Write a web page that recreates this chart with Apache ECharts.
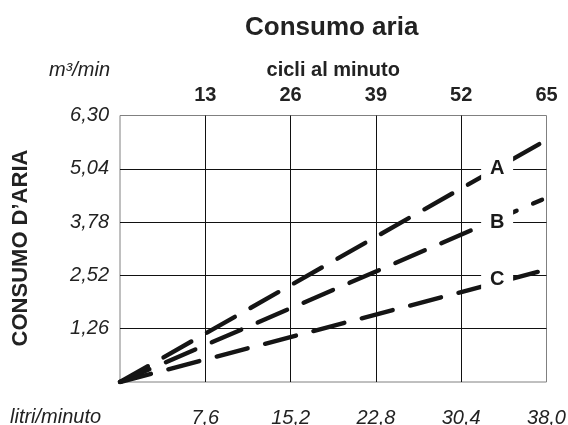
<!DOCTYPE html>
<html><head><meta charset="utf-8">
<script src="https://cdn.jsdelivr.net/npm/echarts@6/dist/echarts.min.js"></script>
<style>html,body{margin:0;padding:0;background:#fff}#c{width:568px;height:425px}</style>
</head><body><div id="c"></div>
<script>
// data
const seriesNames = ['A', 'B', 'C'];
const xLitri = [0, 37.6];            // litri/minuto
const serieA = [0, 5.66];            // m3/min
const serieB = [0, 4.31];
const serieC = [0, 2.63];
const labelX = [33.6, 33.6, 33.6];
const labelY = [5.04, 3.78, 2.43];
const litriTicks = [7.6, 15.2, 22.8, 30.4, 38.0];
const cicliTicks = [13, 26, 39, 52, 65];
const consumoTicks = [1.26, 2.52, 3.78, 5.04, 6.30];

const FONT = 'Liberation Sans, Arial, Helvetica, sans-serif';
const chart = echarts.init(document.getElementById('c'), null, {renderer: 'canvas'});
const values = [serieA, serieB, serieC];

const lineSeries = seriesNames.map((n, i) => ({
  name: n, type: 'line', xAxisIndex: 0, yAxisIndex: 0,
  data: xLitri.map((x, k) => [x, values[i][k]]),
  symbol: 'none', z: 3,
  lineStyle: {color: '#151515', width: 4.4, type: [32, 18], cap: 'round'}
}));

const labelSeries = {
  type: 'scatter', xAxisIndex: 0, yAxisIndex: 0, z: 10, zlevel: 1,
  symbol: 'rect', symbolSize: [32, 26],
  itemStyle: {color: '#ffffff', opacity: 1},
  data: seriesNames.map((n, i) => ({name: n, value: [labelX[i], labelY[i]]})),
  label: {show: true, position: 'inside', formatter: p => p.name,
    fontFamily: FONT, fontWeight: 'bold', fontSize: 20, color: '#1a1a1a'},
  emphasis: {disabled: true},
  silent: true
};

chart.setOption({
  animation: false,
  backgroundColor: '#fff',
  title: {text: 'Consumo aria', left: 245, top: 15, padding: 0,
    textStyle: {fontFamily: FONT, fontSize: 26, fontWeight: 'bold', color: '#222'}},
  grid: {left: 120, right: 21.5, top: 115.5, bottom: 43, show: true,
    outerBoundsMode: 'none', containLabel: false,
    borderColor: '#808080', borderWidth: 1, backgroundColor: 'transparent'},
  xAxis: [{
    type: 'value', position: 'bottom', min: 0, max: litriTicks[litriTicks.length - 1], interval: litriTicks[0],
    axisLine: {show: false}, axisTick: {show: false},
    splitLine: {show: true, showMinLine: false, showMaxLine: false, lineStyle: {color: '#111', width: 1}},
    axisLabel: {margin: 26, fontFamily: FONT, fontStyle: 'italic', fontSize: 20, color: '#222',
      formatter: v => v === 0 ? '' : v.toFixed(1).replace('.', ',')}
  }, {
    type: 'value', position: 'top', min: 0, max: cicliTicks[cicliTicks.length - 1], interval: cicliTicks[0],
    axisLine: {show: false}, axisTick: {show: false}, splitLine: {show: false},
    axisLabel: {margin: 10, fontFamily: FONT, fontWeight: 'bold', fontSize: 20, color: '#222',
      formatter: v => v === 0 ? '' : String(v)},
    name: 'cicli al minuto', nameLocation: 'middle', nameGap: 45,
    nameTextStyle: {fontFamily: FONT, fontWeight: 'bold', fontSize: 20, color: '#222', verticalAlign: 'middle'}
  }],
  yAxis: [{
    type: 'value', min: 0, max: consumoTicks[consumoTicks.length - 1], interval: consumoTicks[0],
    axisLine: {show: false}, axisTick: {show: false},
    splitLine: {show: true, showMinLine: false, showMaxLine: false, lineStyle: {color: '#111', width: 1}},
    axisLabel: {margin: 11, fontFamily: FONT, fontStyle: 'italic', fontSize: 20, color: '#222',
      formatter: v => v === 0 ? '' : v.toFixed(2).replace('.', ',')},
    name: 'm³/min', nameLocation: 'end', nameGap: 45,
    nameTextStyle: {fontFamily: FONT, fontStyle: 'italic', fontSize: 20, color: '#222',
      align: 'right', verticalAlign: 'middle', padding: [0, 10, 0, 0]}
  }],
  graphic: [
    {type: 'text', x: 21, y: 248, rotation: Math.PI / 2,
      style: {text: 'CONSUMO D’ARIA', fontFamily: FONT, fontWeight: 'bold', fontSize: 22,
        fill: '#222', align: 'center', verticalAlign: 'middle'}},
    {type: 'text', x: 10, y: 417,
      style: {text: 'litri/minuto', fontFamily: FONT, fontStyle: 'italic', fontSize: 20,
        fill: '#222', align: 'left', verticalAlign: 'middle'}}
  ],
  series: lineSeries.concat([labelSeries])
});
</script></body></html>
